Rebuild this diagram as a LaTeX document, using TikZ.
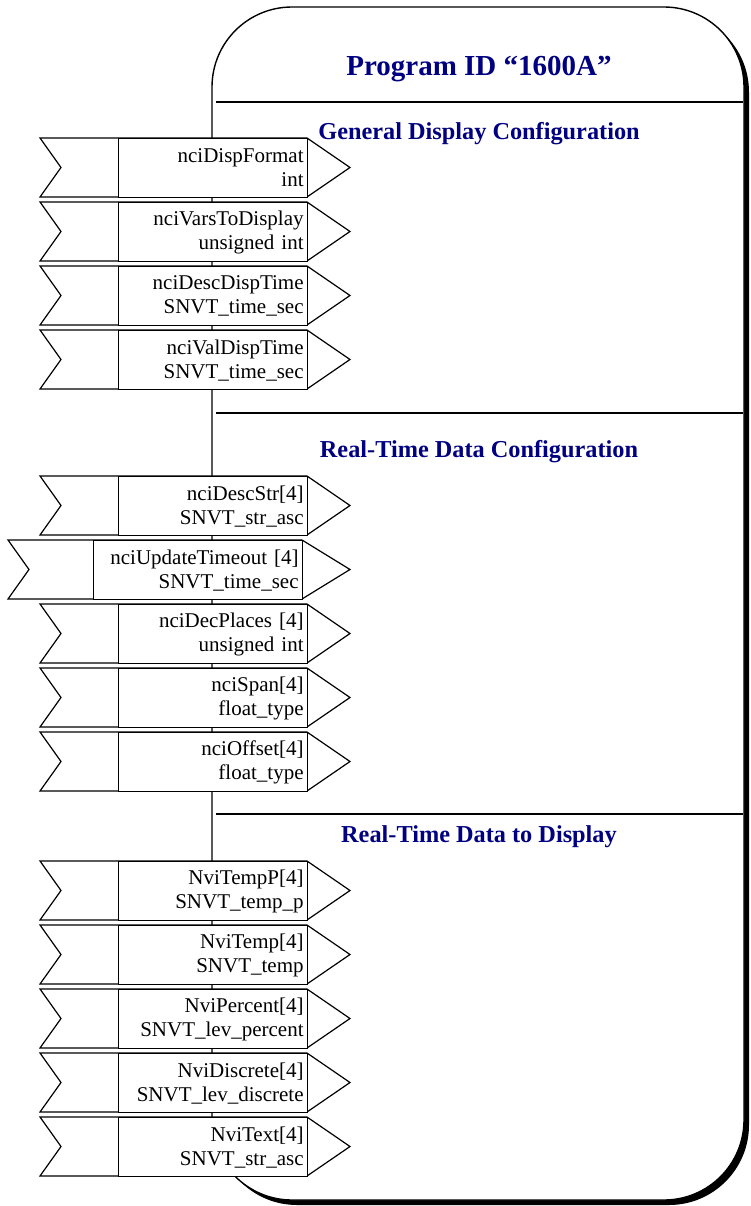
\documentclass[tikz,border=0pt]{standalone}
\usepackage{fontspec}
\setmainfont{Liberation Serif}
\definecolor{navyblue}{RGB}{0,0,128}
\tikzset{
  portline/.style={draw=black, line width=1.2pt, line join=miter},
  portbox/.style={draw=black, line width=1.2pt, fill=white, minimum height=59pt, inner xsep=4pt, inner ysep=0pt, align=right, font=\fontsize{21}{24}\selectfont},
  titletext/.style={text=navyblue, font=\fontsize{29}{34}\selectfont\bfseries, inner sep=0pt, anchor=base},
  headtext/.style={text=navyblue, font=\fontsize{24.3}{28}\selectfont\bfseries, inner sep=0pt, anchor=base},
  divider/.style={draw=black, line width=1.4pt},
}
\newcommand\lonport[6]{% #1 name, #2 top, #3 notch x, #4 rect left, #5 rect right, #6 text
  \draw[portline, fill=white] (#3,#2) -- (#5,#2) -- (350,#2+29.5) -- (#5,#2+59) -- (#3,#2+59) -- (#3+21,#2+29.5) -- cycle;
  \node[portbox, text width=#5-#4-8, anchor=north west] (#1) at (#4,#2) {#6};
}
\begin{document}
\begin{tikzpicture}[x=1pt,y=-1pt]
\useasboundingbox (0,0) rectangle (750,1206);
% outer box with shadow
\fill[black, rounded corners=80pt] (217,12) rectangle (749,1205);
\draw[line width=1.4pt, fill=white, rounded corners=80pt] (212,7) rectangle (744,1200);
% dividers
\draw[divider] (216,102) -- (743,102);
\draw[divider] (216,413) -- (743,413);
\draw[divider] (216,814) -- (743,814);
% titles
\node[titletext] (title) at (479,76) {Program ID “1600A”};
\node[headtext] (h1) at (479,140) {General Display Configuration};
\node[headtext] (h2) at (479,457) {Real-Time Data Configuration};
\node[headtext] (h3) at (479,842) {Real-Time Data to Display};
% group 1
\lonport{p1}{138}{40}{118}{307}{nciDispFormat\\int}
\lonport{p2}{202}{40}{118}{307}{nciVarsToDisplay\\unsigned int}
\lonport{p3}{266}{40}{118}{307}{nciDescDispTime\\SNVT\_time\_sec}
\lonport{p4}{330}{40}{118}{307}{nciValDispTime\\SNVT\_time\_sec}
% group 2
\lonport{p5}{476}{40}{118}{307}{nciDescStr[4]\\SNVT\_str\_asc}
\lonport{p6}{540}{8}{93}{302}{nciUpdateTimeout [4]\\SNVT\_time\_sec}
\lonport{p7}{604}{40}{118}{307}{nciDecPlaces [4]\\unsigned int}
\lonport{p8}{668}{40}{118}{307}{nciSpan[4]\\float\_type}
\lonport{p9}{732}{40}{118}{307}{nciOffset[4]\\float\_type}
% group 3
\lonport{p10}{861}{40}{118}{307}{NviTempP[4]\\SNVT\_temp\_p}
\lonport{p11}{925}{40}{118}{307}{NviTemp[4]\\SNVT\_temp}
\lonport{p12}{989}{40}{118}{307}{NviPercent[4]\\SNVT\_lev\_percent}
\lonport{p13}{1053}{40}{118}{307}{NviDiscrete[4]\\SNVT\_lev\_discrete}
\lonport{p14}{1117}{40}{118}{307}{NviText[4]\\SNVT\_str\_asc}
\end{tikzpicture}
\end{document}
